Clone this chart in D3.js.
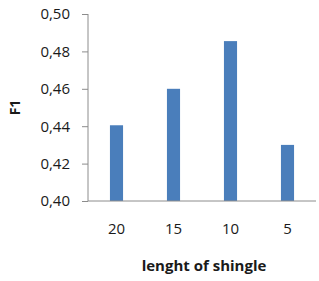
<!DOCTYPE html>
<html>
<head>
<meta charset="utf-8">
<script src="https://cdn.jsdelivr.net/npm/d3@7"></script>
<style>
  body { margin: 0; background: #fff; }
  text { font-family: "Open Sans", sans-serif; fill: #1a1a1a; }
</style>
</head>
<body>
<div id="chart"></div>
<script>
// values
const categories = ["20", "15", "10", "5"];
const f1Values = [0.4405, 0.46, 0.4855, 0.43];
const yTicks = [0.40, 0.42, 0.44, 0.46, 0.48, 0.50];

const width = 319, height = 281;
const margin = { top: 14, right: 3, bottom: 80, left: 88 };

const svg = d3.select("#chart")
  .append("svg")
  .attr("width", width)
  .attr("height", height);

let xScale = d3.scaleBand()
  .domain(categories)
  .range([margin.left, width - margin.right])
  .paddingInner(0.77)
  .paddingOuter(0.385);

let yScale = d3.scaleLinear()
  .domain([0.40, 0.50])
  .range([height - margin.bottom, margin.top]);

const fmt = d => d3.format(".2f")(d).replace(".", ",");

// y axis
const yAxis = svg.append("g")
  .attr("transform", `translate(${margin.left},0)`)
  .call(d3.axisLeft(yScale).tickValues(yTicks).tickFormat(fmt).tickSize(6).tickPadding(12));
yAxis.selectAll("line, path").attr("stroke", "#8c8c8c");
yAxis.select(".domain").attr("d", `M0,${yScale(0.40)}V${yScale(0.50)}`);
yAxis.selectAll("text").attr("font-size", 15).attr("font-family", "Open Sans").attr("fill", "#1a1a1a");

// bars
svg.selectAll("rect.bar")
  .data(f1Values)
  .enter()
  .append("rect")
    .attr("class", "bar")
    .attr("x", (d, i) => xScale(categories[i]))
    .attr("width", xScale.bandwidth())
    .attr("y", d => yScale(d))
    .attr("height", d => yScale(0.40) - yScale(d))
    .attr("fill", "#4a7ebb");

// x axis
const xAxis = svg.append("g")
  .attr("transform", `translate(0,${height - margin.bottom})`)
  .call(d3.axisBottom(xScale).tickSize(0).tickPadding(22));
xAxis.select(".domain").attr("stroke", "#8c8c8c").attr("d", `M${margin.left},0H${width - margin.right}`);
xAxis.selectAll("text").attr("font-size", 15).attr("font-family", "Open Sans").attr("fill", "#1a1a1a");

// axis titles
svg.append("text")
  .attr("x", 204)
  .attr("y", 271)
  .attr("text-anchor", "middle")
  .attr("font-size", 15)
  .attr("font-weight", "bold")
  .text("lenght of shingle");

svg.append("text")
  .attr("transform", `translate(20,${(yScale(0.40) + yScale(0.50)) / 2}) rotate(-90)`)
  .attr("text-anchor", "middle")
  .attr("font-size", 14)
  .attr("font-weight", "bold")
  .text("F1");
</script>
</body>
</html>
